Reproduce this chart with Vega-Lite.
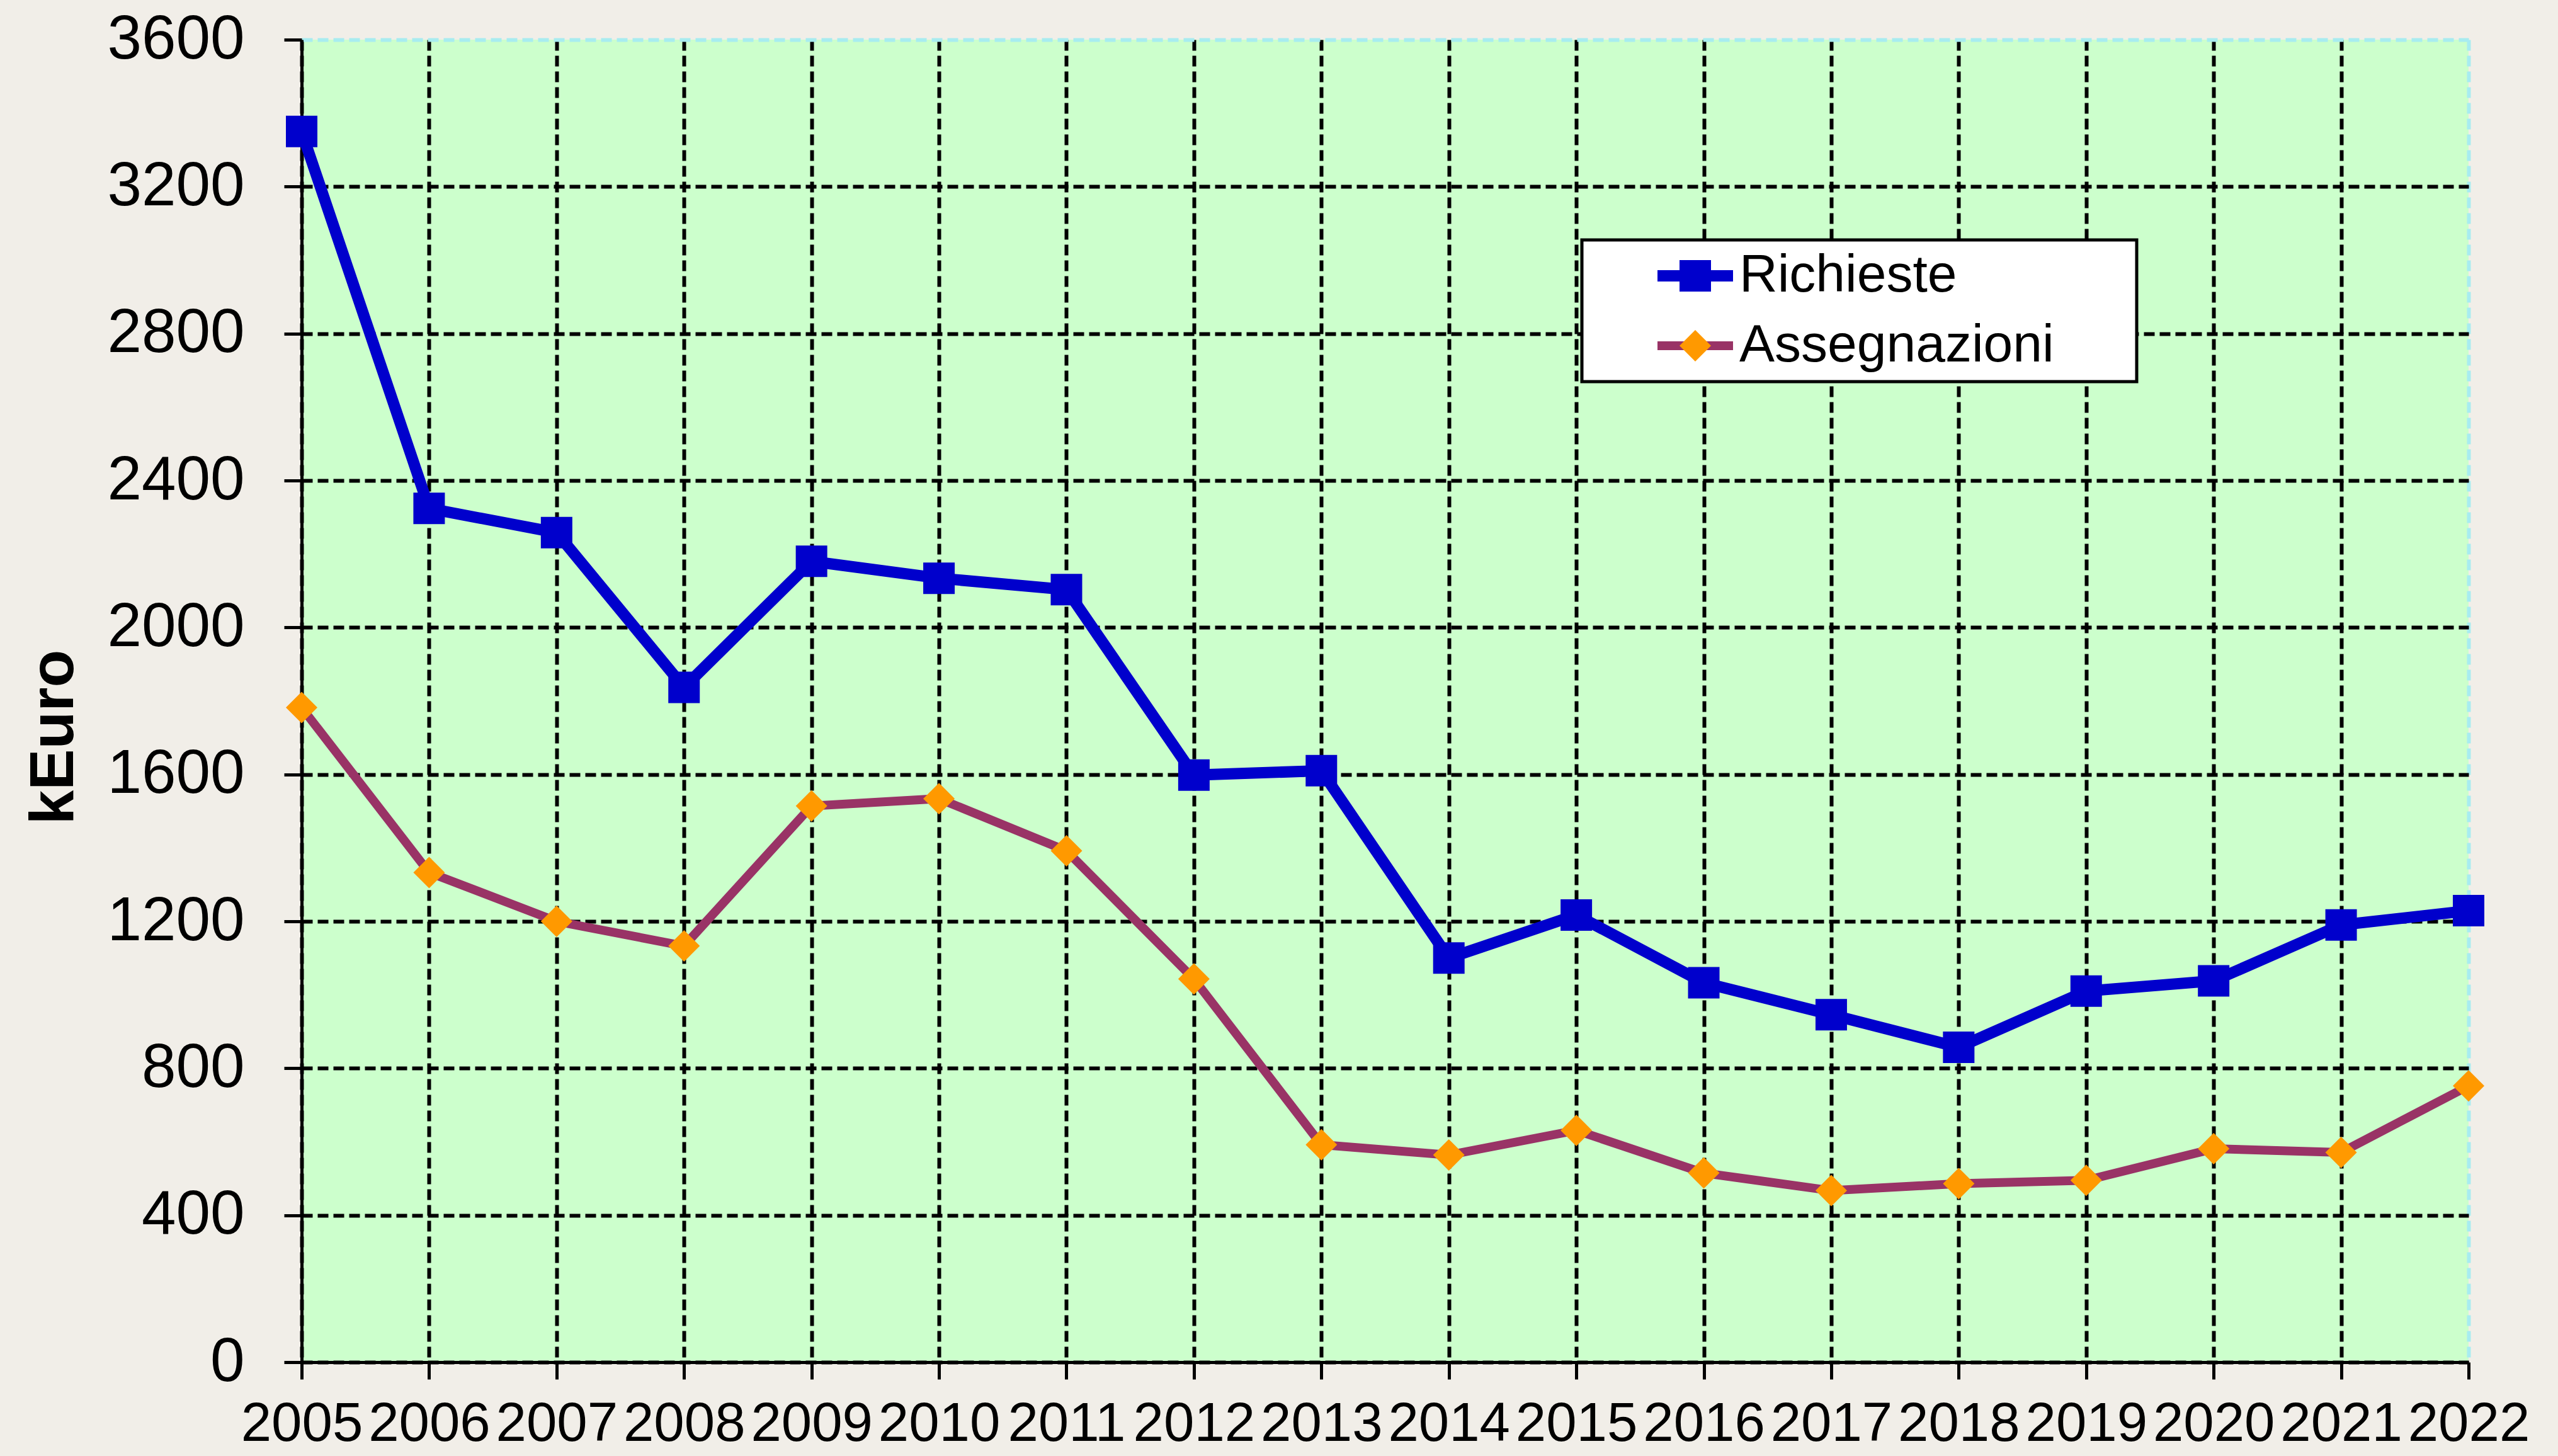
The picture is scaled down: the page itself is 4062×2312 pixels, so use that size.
{
  "$schema": "https://vega.github.io/schema/vega-lite/v6.json",
  "width": 3441,
  "height": 2100,
  "autosize": {"type": "none"},
  "padding": {"left": 479, "top": 63, "right": 142, "bottom": 149},
  "background": "#f1eee8",
  "config": {
    "font": "Liberation Sans",
    "view": {"fill": "#ccffcc", "stroke": null},
    "legend": {"strokeWidth": 5}
  },
  "data": {
    "values": [
      {"year": 2005, "series": "Richieste", "value": 3350},
      {"year": 2006, "series": "Richieste", "value": 2324},
      {"year": 2007, "series": "Richieste", "value": 2258},
      {"year": 2008, "series": "Richieste", "value": 1837},
      {"year": 2009, "series": "Richieste", "value": 2180},
      {"year": 2010, "series": "Richieste", "value": 2134},
      {"year": 2011, "series": "Richieste", "value": 2103},
      {"year": 2012, "series": "Richieste", "value": 1598},
      {"year": 2013, "series": "Richieste", "value": 1610},
      {"year": 2014, "series": "Richieste", "value": 1100},
      {"year": 2015, "series": "Richieste", "value": 1217},
      {"year": 2016, "series": "Richieste", "value": 1033},
      {"year": 2017, "series": "Richieste", "value": 946},
      {"year": 2018, "series": "Richieste", "value": 857},
      {"year": 2019, "series": "Richieste", "value": 1010},
      {"year": 2020, "series": "Richieste", "value": 1038},
      {"year": 2021, "series": "Richieste", "value": 1190},
      {"year": 2022, "series": "Richieste", "value": 1229},
      {"year": 2005, "series": "Assegnazioni", "value": 1782},
      {"year": 2006, "series": "Assegnazioni", "value": 1333},
      {"year": 2007, "series": "Assegnazioni", "value": 1200},
      {"year": 2008, "series": "Assegnazioni", "value": 1133},
      {"year": 2009, "series": "Assegnazioni", "value": 1514},
      {"year": 2010, "series": "Assegnazioni", "value": 1534},
      {"year": 2011, "series": "Assegnazioni", "value": 1392},
      {"year": 2012, "series": "Assegnazioni", "value": 1043},
      {"year": 2013, "series": "Assegnazioni", "value": 592},
      {"year": 2014, "series": "Assegnazioni", "value": 564},
      {"year": 2015, "series": "Assegnazioni", "value": 631},
      {"year": 2016, "series": "Assegnazioni", "value": 515},
      {"year": 2017, "series": "Assegnazioni", "value": 467},
      {"year": 2018, "series": "Assegnazioni", "value": 486},
      {"year": 2019, "series": "Assegnazioni", "value": 495},
      {"year": 2020, "series": "Assegnazioni", "value": 581},
      {"year": 2021, "series": "Assegnazioni", "value": 571},
      {"year": 2022, "series": "Assegnazioni", "value": 752}
    ]
  },
  "encoding": {
    "x": {
      "field": "year",
      "type": "quantitative",
      "scale": {"domain": [2005, 2022], "nice": false, "zero": false},
      "axis": {
        "values": [2005, 2006, 2007, 2008, 2009, 2010, 2011, 2012, 2013, 2014, 2015, 2016, 2017, 2018, 2019, 2020, 2021, 2022],
        "format": "d",
        "title": null,
        "labelFont": "Liberation Sans",
        "labelFontSize": 87,
        "labelColor": "black",
        "labelOverlap": false,
        "labelFlush": false,
        "labelBound": false,
        "labelLimit": 1000,
        "labelBaseline": "alphabetic",
        "labelPadding": 97,
        "ticks": true,
        "tickSize": 27,
        "tickWidth": 5,
        "tickColor": "black",
        "domainColor": "black",
        "domainWidth": 5,
        "grid": true,
        "gridColor": {"condition": {"test": "datum.value === 2022", "value": "#a8ecf0"}, "value": "black"},
        "gridWidth": 6,
        "gridDash": [17, 8],
        "gridOpacity": 1
      }
    },
    "y": {
      "field": "value",
      "type": "quantitative",
      "scale": {"domain": [0, 3600], "nice": false},
      "axis": {
        "values": [0, 400, 800, 1200, 1600, 2000, 2400, 2800, 3200, 3600],
        "format": "d",
        "title": "kEuro",
        "titleFont": "Liberation Sans",
        "titleFontSize": 98,
        "titleFontWeight": "bold",
        "titleColor": "black",
        "titleAngle": 270,
        "titleBaseline": "bottom",
        "titleAlign": "center",
        "titleX": -343,
        "titleY": 1107,
        "labelFont": "Liberation Sans",
        "labelFontSize": 98,
        "labelColor": "black",
        "labelPadding": 63,
        "labelLimit": 1000,
        "labelOverlap": false,
        "labelFlush": false,
        "labelBound": false,
        "tickSize": 28,
        "tickWidth": 5,
        "tickColor": "black",
        "domainColor": "black",
        "domainWidth": 5,
        "grid": true,
        "gridColor": {"condition": {"test": "datum.value === 3600", "value": "#a8ecf0"}, "value": "black"},
        "gridWidth": 6,
        "gridDash": [17, 8],
        "gridOpacity": 1
      }
    }
  },
  "layer": [
    {
      "mark": {"type": "line", "strokeJoin": "miter"},
      "encoding": {
        "stroke": {
          "field": "series",
          "type": "nominal",
          "scale": {"domain": ["Assegnazioni", "Richieste"], "range": ["#993366", "#0000cc"]},
          "legend": {
            "values": ["Richieste", "Assegnazioni"],
            "orient": "none",
            "legendX": 2033,
            "legendY": 318,
            "title": null,
            "direction": "vertical",
            "fillColor": "white",
            "strokeColor": "black",
            "padding": 15,
            "symbolType": "M-2.4,0H2.4M26,0",
            "symbolSize": 2500,
            "symbolStrokeWidth": 17,
            "symbolFillColor": "transparent",
            "symbolOffset": 123,
            "labelOffset": 28,
            "labelFont": "Liberation Sans",
            "labelFontSize": 84,
            "labelColor": "black",
            "labelLimit": 1000,
            "rowPadding": 27
          }
        },
        "strokeWidth": {
          "field": "series",
          "type": "nominal",
          "scale": {"domain": ["Assegnazioni", "Richieste"], "range": [14, 18]},
          "legend": null
        }
      }
    },
    {
      "mark": {"type": "point", "filled": true, "size": 2500, "opacity": 1, "strokeWidth": 0},
      "encoding": {
        "fill": {
          "field": "series",
          "type": "nominal",
          "scale": {"domain": ["Richieste", "Assegnazioni"], "range": ["#0000cc", "#ff9900"]},
          "legend": {
            "orient": "none",
            "legendX": 2033,
            "legendY": 318,
            "title": null,
            "direction": "vertical",
            "padding": 15,
            "symbolSize": 2500,
            "symbolStrokeWidth": 0,
            "symbolOffset": 123,
            "labelOffset": 28,
            "labelFont": "Liberation Sans",
            "labelFontSize": 84,
            "labelOpacity": 0,
            "labelLimit": 1000,
            "rowPadding": 27
          }
        },
        "shape": {
          "field": "series",
          "type": "nominal",
          "scale": {"domain": ["Richieste", "Assegnazioni"], "range": ["square", "diamond"]},
          "legend": {
            "orient": "none",
            "legendX": 2033,
            "legendY": 318,
            "title": null,
            "direction": "vertical",
            "padding": 15,
            "symbolSize": 2500,
            "symbolStrokeWidth": 0,
            "symbolOffset": 123,
            "labelOffset": 28,
            "labelFont": "Liberation Sans",
            "labelFontSize": 84,
            "labelOpacity": 0,
            "labelLimit": 1000,
            "rowPadding": 27
          }
        }
      }
    }
  ]
}
